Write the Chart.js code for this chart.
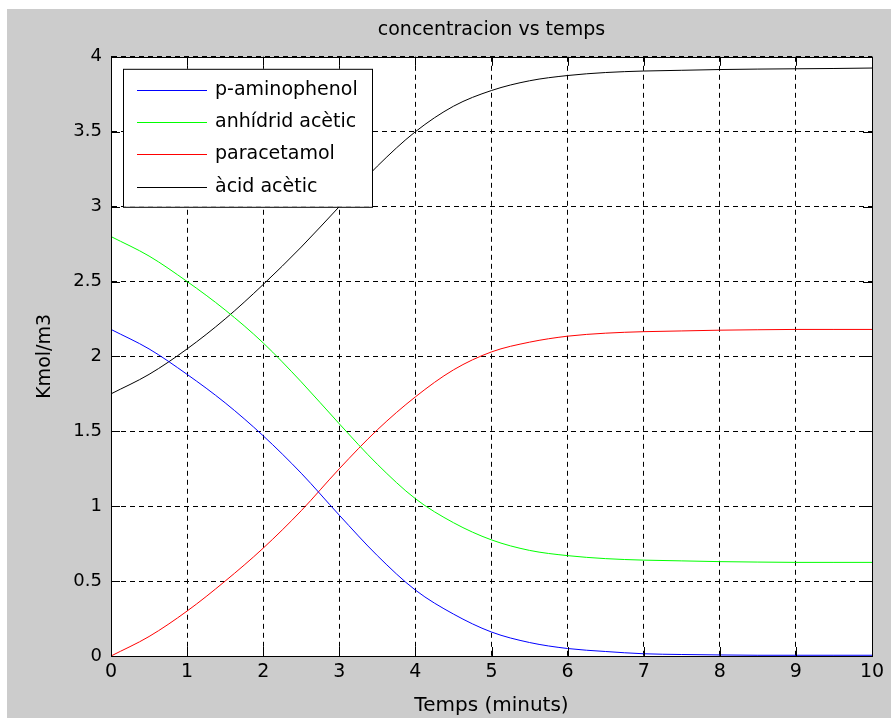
<!DOCTYPE html>
<html>
<head>
<meta charset="utf-8">
<script src="https://cdn.jsdelivr.net/npm/chart.js@4.4.0/dist/chart.umd.min.js"></script>
<style>
  html, body { margin: 0; padding: 0; background: #ffffff; }
  #wrap { width: 891px; height: 718px; }
</style>
</head>
<body>
<div id="wrap"><canvas id="chart" width="891" height="718"></canvas></div>
<script>
// time axis (minutes)
const times = [0, 0.5, 1, 1.5, 2, 2.5, 3, 3.5, 4, 4.5, 5, 5.5, 6, 6.5, 7, 7.5, 8, 8.5, 9, 9.5, 10];

// concentrations (Kmol/m3)
const aminophenol = [2.18, 2.05, 1.88, 1.69, 1.47, 1.22, 0.94, 0.67, 0.44, 0.28, 0.16, 0.09, 0.05, 0.03, 0.015, 0.01, 0.007, 0.005, 0.005, 0.005, 0.005];
const anhidrid = [2.80, 2.67, 2.50, 2.31, 2.09, 1.83, 1.55, 1.28, 1.05, 0.89, 0.775, 0.705, 0.67, 0.65, 0.64, 0.635, 0.63, 0.627, 0.625, 0.625, 0.625];
const paracetamol = [0, 0.13, 0.30, 0.50, 0.72, 0.97, 1.25, 1.51, 1.73, 1.91, 2.03, 2.095, 2.135, 2.155, 2.165, 2.17, 2.175, 2.178, 2.18, 2.18, 2.18];
const acidAcetic = [1.75, 1.88, 2.05, 2.25, 2.48, 2.73, 3.00, 3.27, 3.50, 3.67, 3.775, 3.84, 3.875, 3.895, 3.905, 3.91, 3.915, 3.918, 3.92, 3.922, 3.925];

const seriesLabels = ['p-aminophenol', 'anhídrid acètic', 'paracetamol', 'àcid acètic'];
const seriesColors = ['#0000ff', '#00ff00', '#ff0000', '#000000'];

const xTicks = [0, 1, 2, 3, 4, 5, 6, 7, 8, 9, 10];
const yTicks = [0, 0.5, 1, 1.5, 2, 2.5, 3, 3.5, 4];

const FONT = 'DejaVu Sans, Verdana, sans-serif';

function toPoints(values) {
    return times.map((t, i) => ({ x: t, y: values[i] }));
}

const allSeries = [aminophenol, anhidrid, paracetamol, acidAcetic];
const datasets = allSeries.map((vals, i) => ({
    label: seriesLabels[i],
    data: toPoints(vals),
    borderColor: seriesColors[i],
    borderWidth: 1,
    cubicInterpolationMode: 'monotone',
    pointRadius: 0,
    fill: false
}));

// grey figure background + white axes
const backgroundPlugin = {
    id: 'figureBackground',
    beforeDraw(chart) {
        const { ctx, chartArea } = chart;
        ctx.save();
        ctx.fillStyle = '#cccccc';
        ctx.fillRect(7, 9, chart.width - 7, chart.height - 9);
        ctx.fillStyle = '#ffffff';
        ctx.fillRect(chartArea.left, chartArea.top, chartArea.right - chartArea.left, chartArea.bottom - chartArea.top);
        ctx.restore();
    }
};

// box, inward ticks and the legend, MATLAB style
const boxPlugin = {
    id: 'matlabBox',
    afterDraw(chart) {
        const { ctx, chartArea: a, scales } = chart;
        const tl = 9;
        ctx.save();
        ctx.strokeStyle = '#000000';
        ctx.lineWidth = 1;
        ctx.setLineDash([]);
        ctx.beginPath();
        xTicks.forEach(v => {
            const px = Math.round(scales.x.getPixelForValue(v)) + 0.5;
            ctx.moveTo(px, a.bottom); ctx.lineTo(px, a.bottom - tl);
            ctx.moveTo(px, a.top); ctx.lineTo(px, a.top + tl);
        });
        yTicks.forEach(v => {
            const py = Math.round(scales.y.getPixelForValue(v)) + 0.5;
            ctx.moveTo(a.left, py); ctx.lineTo(a.left + tl, py);
            ctx.moveTo(a.right, py); ctx.lineTo(a.right - tl, py);
        });
        ctx.stroke();
        ctx.strokeRect(Math.round(a.left) + 0.5, Math.round(a.top) + 0.5,
            Math.round(a.right - a.left), Math.round(a.bottom - a.top));

        // legend
        const lx = a.left + 12, ly = a.top + 12, lw = 249, lh = 138;
        ctx.fillStyle = '#ffffff';
        ctx.fillRect(lx, ly, lw, lh);
        ctx.strokeRect(lx + 0.5, ly + 0.5, lw, lh);
        ctx.font = '19px ' + FONT;
        ctx.textBaseline = 'middle';
        chart.data.datasets.forEach((ds, i) => {
            const y = Math.round(ly + 21 + i * 32.3) + 0.5;
            ctx.strokeStyle = ds.borderColor;
            ctx.beginPath();
            ctx.moveTo(lx + 14, y);
            ctx.lineTo(lx + 84, y);
            ctx.stroke();
            ctx.fillStyle = '#000000';
            ctx.fillText(ds.label, lx + 92, y);
        });
        ctx.restore();
    }
};

new Chart(document.getElementById('chart'), {
    type: 'line',
    data: { datasets },
    plugins: [backgroundPlugin, boxPlugin],
    options: {
        responsive: false,
        animation: false,
        layout: { padding: { left: 0, right: 19, top: 0, bottom: 0 } },
        plugins: {
            legend: { display: false },
            tooltip: { enabled: false },
            title: {
                display: true,
                fullSize: false,
                text: 'concentracion vs temps',
                color: '#000000',
                font: { family: FONT, size: 19, weight: 'normal', lineHeight: 1.2 },
                padding: { top: 19, bottom: 15 }
            }
        },
        scales: {
            x: {
                type: 'linear',
                min: 0,
                max: 10,
                afterBuildTicks: s => { s.ticks = xTicks.map(v => ({ value: v })); },
                afterFit: s => { s.height = 62; s.paddingLeft = 0; s.paddingRight = 0; },
                grid: { color: '#000000', lineWidth: 1, drawTicks: false },
                border: { display: true, color: '#000000', dash: [5, 4] },
                ticks: {
                    color: '#000000',
                    padding: 5,
                    maxRotation: 0,
                    font: { family: FONT, size: 19 },
                    callback: v => String(v)
                },
                title: {
                    display: true,
                    text: 'Temps (minuts)',
                    color: '#000000',
                    font: { family: FONT, size: 20 },
                    padding: { top: 0, bottom: 0 }
                }
            },
            y: {
                type: 'linear',
                min: 0,
                max: 4,
                afterBuildTicks: s => { s.ticks = yTicks.map(v => ({ value: v })); },
                afterFit: s => { s.width = 111; s.paddingTop = 0; s.paddingBottom = 0; },
                grid: { color: '#000000', lineWidth: 1, drawTicks: false },
                border: { display: true, color: '#000000', dash: [5, 4] },
                ticks: {
                    color: '#000000',
                    padding: 9,
                    font: { family: FONT, size: 18 },
                    callback: v => String(v)
                },
                title: {
                    display: true,
                    text: 'Kmol/m3',
                    color: '#000000',
                    font: { family: FONT, size: 19 },
                    padding: { top: 34, bottom: 0 }
                }
            }
        }
    }
});
</script>
</body>
</html>
